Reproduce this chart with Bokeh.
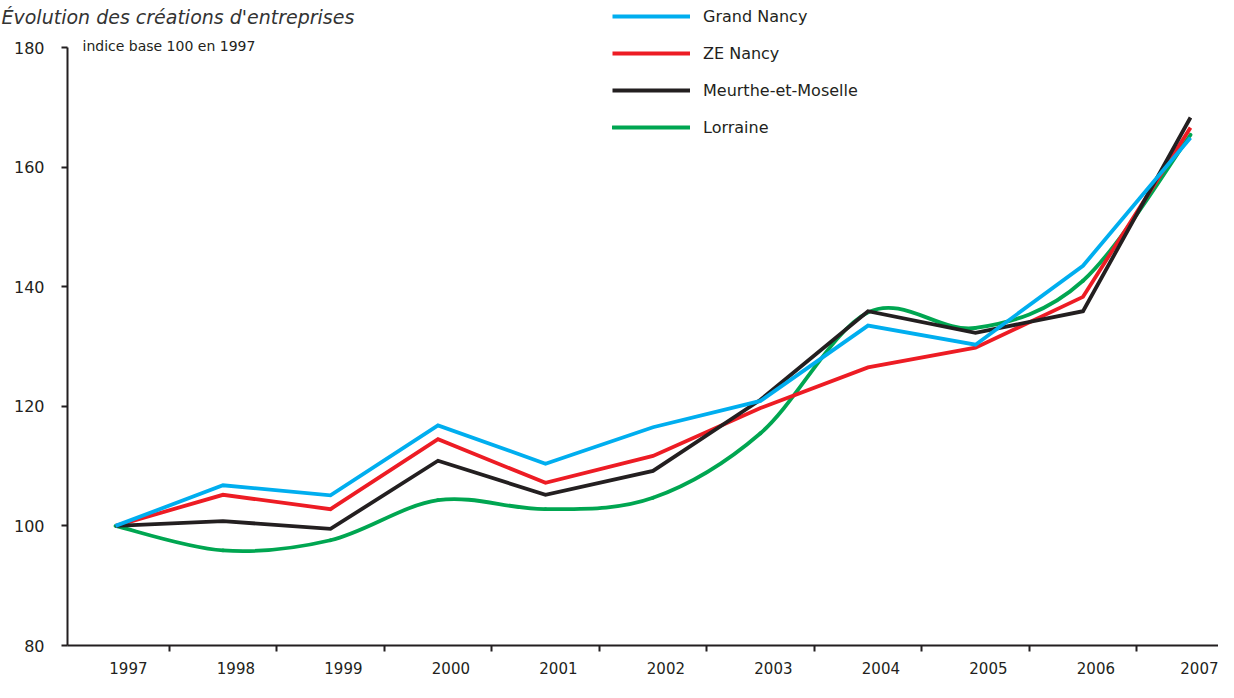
from bokeh.plotting import figure
from bokeh.models import (Range1d, LinearAxis, FixedTicker, Legend, LegendItem, Label)
from bokeh.embed import file_html
from bokeh.resources import INLINE

# ---------------- data ----------------
years = ["1997", "1998", "1999", "2000", "2001", "2002", "2003", "2004", "2005", "2006", "2007"]
grand_nancy = [100, 106.8, 105.1, 116.8, 110.4, 116.5, 120.9, 133.5, 130.3, 143.5, 164.9]
ze_nancy = [100, 105.2, 102.8, 114.5, 107.2, 111.7, 119.7, 126.5, 129.8, 138.3, 166.6]
meurthe = [100, 100.8, 99.5, 110.9, 105.2, 109.2, 121.1, 135.9, 132.3, 135.9, 168.3]
lorraine = [100, 95.9, 97.6, 104.3, 102.8, 104.7, 115.5, 135.7, 133.1, 141.0, 165.4]
y_ticks = [80, 100, 120, 140, 160, 180]

title_text = "Évolution des créations d'entreprises"
subtitle_text = "indice base 100 en 1997"

# ---------------- style ----------------
BLUE = "#00AEEF"
RED = "#ED1C24"
BLACK = "#231F20"
GREEN = "#00A651"
FONT = "DejaVu Sans"
LW = 3.8

W, H = 1218, 682
PX_X = 107.5                     # pixels per year
X0_PX = 115                      # pixel of first year
AXIS_X_PX = 67                   # pixel of the vertical axis
Y_TOP_PX = 47                    # pixel of value 180
Y_BOT_PX = 645                   # pixel of value 80
px_y = (Y_BOT_PX - Y_TOP_PX) / (180 - 80)

x_start = -X0_PX / PX_X
x_end = (W - X0_PX) / PX_X
y_end = 180 + Y_TOP_PX / px_y
y_start = 80 - (H - Y_BOT_PX) / px_y
axis_x = (AXIS_X_PX - X0_PX) / PX_X

xs = list(range(len(years)))

p = figure(width=W, height=H, output_backend="svg", toolbar_location=None,
           x_range=Range1d(x_start, x_end), y_range=Range1d(y_start, y_end),
           min_border_left=0, min_border_right=0, min_border_top=0, min_border_bottom=0,
           x_axis_type=None, y_axis_type=None)
p.outline_line_color = None
p.xgrid.visible = False
p.ygrid.visible = False
p.background_fill_color = "white"
p.border_fill_color = "white"

# green smoothed line (Catmull-Rom -> Bezier)
n = len(xs)
x0, y0, x1, y1, cx0, cy0, cx1, cy1 = [], [], [], [], [], [], [], []
for i in range(n - 1):
    im1 = max(i - 1, 0)
    ip2 = min(i + 2, n - 1)
    x0.append(xs[i]); y0.append(lorraine[i])
    x1.append(xs[i + 1]); y1.append(lorraine[i + 1])
    cx0.append(xs[i] + (xs[i + 1] - xs[im1]) / 6.0)
    cy0.append(lorraine[i] + (lorraine[i + 1] - lorraine[im1]) / 6.0)
    cx1.append(xs[i + 1] - (xs[ip2] - xs[i]) / 6.0)
    cy1.append(lorraine[i + 1] - (lorraine[ip2] - lorraine[i]) / 6.0)
r_green = p.bezier(x0=x0, y0=y0, x1=x1, y1=y1, cx0=cx0, cy0=cy0, cx1=cx1, cy1=cy1,
                   line_color=GREEN, line_width=LW, line_cap="round")
r_red = p.line(xs, ze_nancy, line_color=RED, line_width=LW, line_join="miter")
r_black = p.line(xs, meurthe, line_color=BLACK, line_width=LW, line_join="miter")
r_blue = p.line(xs, grand_nancy, line_color=BLUE, line_width=LW, line_join="miter")

# axes (fixed inside the frame so nothing gets clipped)
yaxis = LinearAxis(ticker=FixedTicker(ticks=y_ticks), fixed_location=axis_x, bounds=(80, 180))
yaxis.axis_line_color = BLACK
yaxis.axis_line_width = 2
yaxis.major_tick_line_color = BLACK
yaxis.major_tick_line_width = 2
yaxis.major_tick_out = 6
yaxis.major_tick_in = 0
yaxis.minor_tick_line_color = None
yaxis.major_label_standoff = 17
yaxis.major_label_text_font = FONT
yaxis.major_label_text_font_size = "16px"
yaxis.major_label_text_color = BLACK
p.add_layout(yaxis, "left")

label_pos = [round(i + 0.12, 2) for i in xs]
sep_pos = [i + 0.5 for i in xs[:-1]]
xaxis = LinearAxis(ticker=FixedTicker(ticks=label_pos, minor_ticks=sep_pos),
                   fixed_location=80, bounds=(axis_x, x_end))
xaxis.major_label_overrides = {pos: yr for pos, yr in zip(label_pos, years)}
xaxis.axis_line_color = BLACK
xaxis.axis_line_width = 2
xaxis.major_tick_line_color = None
xaxis.major_tick_out = 0
xaxis.major_tick_in = 0
xaxis.minor_tick_line_color = BLACK
xaxis.minor_tick_line_width = 2
xaxis.minor_tick_out = 6
xaxis.minor_tick_in = 0
xaxis.major_label_standoff = 10
xaxis.major_label_text_font = FONT
xaxis.major_label_text_font_size = "15px"
xaxis.major_label_text_color = BLACK
p.add_layout(xaxis, "below")

# legend
legend = Legend(items=[
    LegendItem(label="Grand Nancy", renderers=[r_blue]),
    LegendItem(label="ZE Nancy", renderers=[r_red]),
    LegendItem(label="Meurthe-et-Moselle", renderers=[r_black]),
    LegendItem(label="Lorraine", renderers=[r_green]),
], location=(612, H - 4 - 131 - 2))
legend.glyph_width = 78
legend.glyph_height = 20
legend.label_height = 20
legend.spacing = 17
legend.padding = 0
legend.margin = 0
legend.label_standoff = 13
legend.border_line_color = None
legend.background_fill_alpha = 0
legend.label_text_font = FONT
legend.label_text_font_size = "16px"
legend.label_text_color = BLACK
p.add_layout(legend)

# title and subtitle
p.add_layout(Label(x=x_start, y=y_end, x_offset=1, y_offset=-16, text=title_text,
                   text_font=FONT, text_font_style="italic", text_font_size="19px",
                   text_color="#333333", text_baseline="alphabetic"))
p.add_layout(Label(x=(82 - X0_PX) / PX_X, y=180 + 2 / px_y, text=subtitle_text, text_font=FONT,
                   text_font_size="14px", text_color=BLACK, text_baseline="middle"))

open("out.html", "w").write(file_html(p, INLINE))
